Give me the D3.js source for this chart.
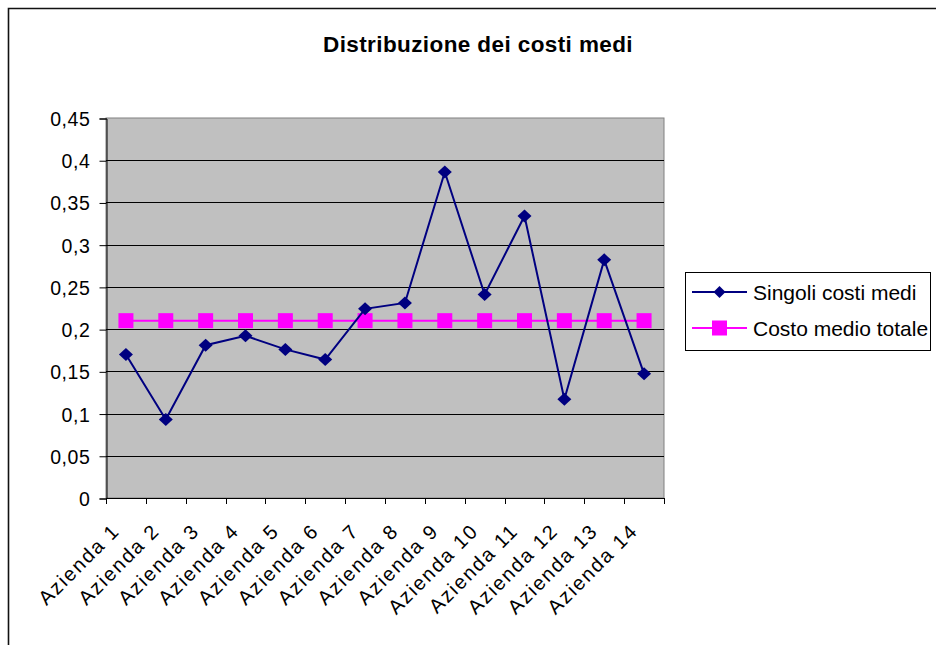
<!DOCTYPE html>
<html>
<head>
<meta charset="utf-8">
<script src="https://cdn.jsdelivr.net/npm/d3@7"></script>
<style>
  html, body { margin: 0; padding: 0; background: #fff; }
  svg { display: block; font-family: "Liberation Sans", Arial, sans-serif; }
</style>
</head>
<body>
<svg id="chart" width="936" height="645"></svg>
<script>
// Average cost per company and overall average
const categories = ["Azienda 1", "Azienda 2", "Azienda 3", "Azienda 4", "Azienda 5", "Azienda 6", "Azienda 7",
                    "Azienda 8", "Azienda 9", "Azienda 10", "Azienda 11", "Azienda 12", "Azienda 13", "Azienda 14"];
const singoliCosti = [0.170, 0.093, 0.181, 0.192, 0.176, 0.164, 0.224, 0.231, 0.386, 0.241, 0.334, 0.117, 0.282, 0.147];
const costoMedio = [0.21, 0.21, 0.21, 0.21, 0.21, 0.21, 0.21, 0.21, 0.21, 0.21, 0.21, 0.21, 0.21, 0.21];
const yTicks = [0, 0.05, 0.1, 0.15, 0.2, 0.25, 0.3, 0.35, 0.4, 0.45];
const seriesNames = ["Singoli costi medi", "Costo medio totale"];

const svg = d3.select("#chart");
const plot = { left: 106, right: 664, top: 118, bottom: 498 };

const x = d3.scaleBand().domain(categories).range([plot.left, plot.right]).padding(0);
const y = d3.scaleLinear().domain([0, 0.45]).range([plot.bottom, plot.top]);
const fmt = v => String(+v.toFixed(2)).replace(".", ",");

// Outer chart frame
svg.append("path")
  .attr("d", "M8.5,645 L8.5,8.5 L936,8.5")
  .attr("fill", "none").attr("stroke", "#111").attr("stroke-width", 1.6);

// Title
svg.append("text")
  .attr("x", 478).attr("y", 52)
  .attr("text-anchor", "middle")
  .attr("font-size", 22.5).attr("font-weight", "bold")
  .attr("letter-spacing", 0.4)
  .text("Distribuzione dei costi medi");

// Plot background
svg.append("rect")
  .attr("x", plot.left).attr("y", plot.top)
  .attr("width", plot.right - plot.left).attr("height", plot.bottom - plot.top)
  .attr("fill", "#c0c0c0").attr("stroke", "#808080").attr("stroke-width", 1);

// Horizontal gridlines
svg.append("g").selectAll("line")
  .data(yTicks.filter(v => v > 0 && v < 0.45))
  .join("line")
  .attr("x1", plot.left).attr("x2", plot.right)
  .attr("y1", d => Math.round(y(d)) + 0.5).attr("y2", d => Math.round(y(d)) + 0.5)
  .attr("stroke", "#000").attr("stroke-width", 1);

// Y axis
const yAxis = svg.append("g")
  .attr("transform", `translate(${plot.left + 0.5},0.5)`)
  .call(d3.axisLeft(y).tickValues(yTicks).tickSize(7).tickPadding(9).tickFormat(fmt));
yAxis.select(".domain").attr("stroke", "#000");
yAxis.selectAll(".tick line").attr("stroke", "#000");
yAxis.selectAll(".tick text")
  .attr("font-family", "'Liberation Sans', Arial, sans-serif")
  .attr("font-size", 19.5).attr("fill", "#000")
  .attr("letter-spacing", 0.6)
  .attr("dy", "0.36em");

// X axis line and boundary ticks
svg.append("line")
  .attr("x1", plot.left).attr("x2", plot.right)
  .attr("y1", plot.bottom + 0.5).attr("y2", plot.bottom + 0.5)
  .attr("stroke", "#000");
const bounds = categories.map(c => x(c)).concat([x(categories[categories.length - 1]) + x.bandwidth()]);
svg.append("g").selectAll("line")
  .data(bounds)
  .join("line")
  .attr("x1", d => Math.round(d) + 0.5).attr("x2", d => Math.round(d) + 0.5)
  .attr("y1", plot.bottom).attr("y2", plot.bottom + 6)
  .attr("stroke", "#000");

// Rotated category labels
svg.append("g").selectAll("text")
  .data(categories)
  .join("text")
  .attr("transform", d => `translate(${x(d) + x.bandwidth() / 2 - 5},${plot.bottom + 34}) rotate(-45)`)
  .attr("text-anchor", "end")
  .attr("font-size", 20)
  .attr("letter-spacing", 1.8)
  .text(d => d);

const cx = d => x(d) + x.bandwidth() / 2;
const diamond = (w, h) => `M0,${-h}L${w},0L0,${h}L${-w},0Z`;

// Overall average series
svg.append("path")
  .datum(costoMedio)
  .attr("fill", "none").attr("stroke", "#ff00ff").attr("stroke-width", 2)
  .attr("d", d3.line().x((d, i) => cx(categories[i])).y(d => y(d)));
svg.append("g").selectAll("rect")
  .data(costoMedio)
  .join("rect")
  .attr("x", (d, i) => cx(categories[i]) - 7.5).attr("y", d => y(d) - 7.5)
  .attr("width", 15).attr("height", 15)
  .attr("fill", "#ff00ff");

// Per-company series
svg.append("path")
  .datum(singoliCosti)
  .attr("fill", "none").attr("stroke", "#000080").attr("stroke-width", 2)
  .attr("d", d3.line().x((d, i) => cx(categories[i])).y(d => y(d)));
svg.append("g").selectAll("path")
  .data(singoliCosti)
  .join("path")
  .attr("transform", (d, i) => `translate(${cx(categories[i])},${y(d)})`)
  .attr("d", diamond(7, 6.5))
  .attr("fill", "#000080");

// Legend
const legend = svg.append("g");
legend.append("rect")
  .attr("x", 685.5).attr("y", 272.5).attr("width", 245).attr("height", 78)
  .attr("fill", "#fff").attr("stroke", "#000").attr("stroke-width", 1);
const rows = [
  { name: seriesNames[0], color: "#000080", y: 292, marker: "diamond" },
  { name: seriesNames[1], color: "#ff00ff", y: 328, marker: "square" }
];
rows.forEach(r => {
  legend.append("line")
    .attr("x1", 692).attr("x2", 747).attr("y1", r.y).attr("y2", r.y)
    .attr("stroke", r.color).attr("stroke-width", 2);
  if (r.marker === "diamond") {
    legend.append("path").attr("transform", `translate(719.5,${r.y})`)
      .attr("d", diamond(6, 6)).attr("fill", r.color);
  } else {
    legend.append("rect").attr("x", 712).attr("y", r.y - 7.5)
      .attr("width", 15).attr("height", 15).attr("fill", r.color);
  }
  legend.append("text")
    .attr("x", 753).attr("y", r.y + 7.5)
    .attr("font-size", 21)
    .text(r.name);
});
</script>
</body>
</html>
